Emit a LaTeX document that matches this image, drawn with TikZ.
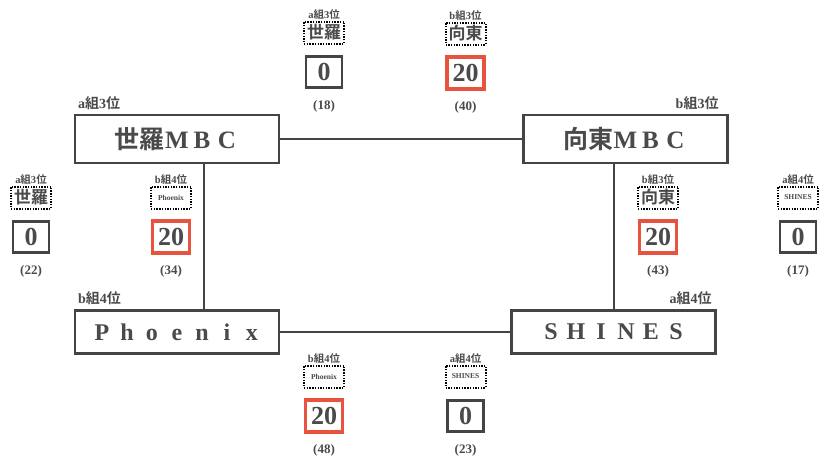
\documentclass[tikz,border=0pt]{standalone}
\usepackage{fontspec}
\setmainfont{Liberation Serif}
\newfontfamily\cjk{Noto Sans CJK JP}[BoldFont={* Bold}]
\usetikzlibrary{calc}
\definecolor{txtgrey}{HTML}{4A4A4A}
\definecolor{lngrey}{HTML}{444444}
\definecolor{hired}{HTML}{E8533F}
\newcommand\fw[1]{\makebox[25pt]{#1}}
\newcommand\grp[1]{{\cjk #1}}
\tikzset{
  team/.style={draw=lngrey, line width=2.4pt, fill=white, minimum width=204pt, minimum height=48pt, inner sep=0pt, text=txtgrey, font=\fontsize{25}{25}\selectfont\bfseries},
  link/.style={draw=lngrey, line width=2pt},
  grouplbl/.style={text=txtgrey, font=\fontsize{14}{14}\selectfont\bfseries, inner sep=0pt},
  tinylbl/.style={text=txtgrey, font=\fontsize{10.5}{10.5}\selectfont\bfseries, inner sep=0pt},
  namebox/.style={draw=black, line width=2pt, dash pattern=on 1.4pt off 1.3pt, minimum width=40pt, minimum height=22pt, inner sep=0pt, text=txtgrey, font=\bfseries},
  scorebox/.style={draw=lngrey, line width=2.4pt, fill=white, minimum width=36pt, minimum height=31pt, inner sep=0pt, text=txtgrey, font=\fontsize{26}{26}\selectfont\bfseries},
  winbox/.style={scorebox, draw=hired, line width=3.2pt, minimum width=37pt, minimum height=32pt},
  paren/.style={text=txtgrey, font=\fontsize{13}{13}\selectfont\bfseries, inner sep=0pt}
}
% name, x, y, label, name text, score, box style, paren
\newcommand\scoregrp[8]{%
  \node[tinylbl] (#1l) at (#2,#3-57) {#4};
  \node[namebox] (#1n) at (#2,#3-39.5) {#5};
  \node[#7] (#1s) at (#2,#3) {#6};
  \node[paren] (#1p) at (#2,#3+34) {#8};
}
\begin{document}
\begin{tikzpicture}[x=1pt,y=-1pt]
\useasboundingbox (0,0) rectangle (821,456);
\fill[white] (0,0) rectangle (821,456);

% team boxes
\node[team] (sera) at (177,139) {\grp{世羅}\fw{M}\fw{B}\fw{C}};
\node[team] (kotou) at (625.5,139) {\grp{向東}\fw{M}\fw{B}\fw{C}};
\node[team, minimum height=43pt, font=\fontsize{24}{24}\selectfont\bfseries] (phoenix) at (177,332) {\fw{P}\fw{h}\fw{o}\fw{e}\fw{n}\fw{i}\fw{x}};
\node[team, minimum height=43pt, font=\fontsize{24}{24}\selectfont\bfseries] (shines) at (613.5,332) {\fw{S}\fw{H}\fw{I}\fw{N}\fw{E}\fw{S}};

% connectors
\draw[link] (sera.east) -- (kotou.west);
\draw[link] (phoenix.east) -- (shines.west);
\draw[link] ([xshift=26.5pt]sera.south) -- ([xshift=26.5pt]phoenix.north);
\draw[link] (shines.north |- kotou.south) -- (shines.north);

% group labels
\node[grouplbl, anchor=south west] (lsera) at ([xshift=4pt,yshift=4pt]sera.north west) {a\grp{組}3\grp{位}};
\node[grouplbl, anchor=south east] (lkotou) at ([xshift=-10pt,yshift=4pt]kotou.north east) {b\grp{組}3\grp{位}};
\node[grouplbl, anchor=south west] (lphoenix) at ([xshift=4pt,yshift=4pt]phoenix.north west) {b\grp{組}4\grp{位}};
\node[grouplbl, anchor=south east] (lshines) at ([xshift=-5pt,yshift=4pt]shines.north east) {a\grp{組}4\grp{位}};

% score groups
\scoregrp{t1}{324}{72}{a\grp{組}3\grp{位}}{\fontsize{17}{17}\selectfont\grp{世羅}}{0}{scorebox}{(18)}
\scoregrp{t2}{465.5}{73}{b\grp{組}3\grp{位}}{\fontsize{17}{17}\selectfont\grp{向東}}{20}{winbox}{(40)}
\scoregrp{m1}{31}{237}{a\grp{組}3\grp{位}}{\fontsize{17}{17}\selectfont\grp{世羅}}{0}{scorebox}{(22)}
\scoregrp{m2}{171}{237}{b\grp{組}4\grp{位}}{\fontsize{7.5}{7.5}\selectfont Phoenix}{20}{winbox}{(34)}
\scoregrp{m3}{658}{237}{b\grp{組}3\grp{位}}{\fontsize{17}{17}\selectfont\grp{向東}}{20}{winbox}{(43)}
\scoregrp{m4}{798}{237}{a\grp{組}4\grp{位}}{\fontsize{7.5}{7.5}\selectfont SHINES}{0}{scorebox}{(17)}
\scoregrp{b1}{324}{416}{b\grp{組}4\grp{位}}{\fontsize{7.5}{7.5}\selectfont Phoenix}{20}{winbox}{(48)}
\scoregrp{b2}{465.5}{416}{a\grp{組}4\grp{位}}{\fontsize{7.5}{7.5}\selectfont SHINES}{0}{scorebox}{(23)}
\end{tikzpicture}
\end{document}
